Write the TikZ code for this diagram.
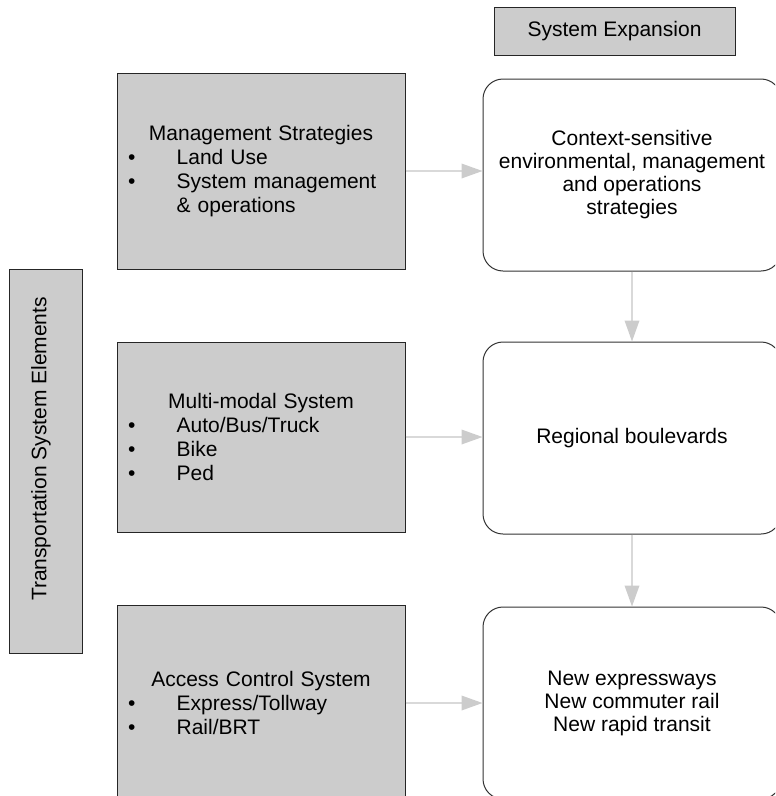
\documentclass[tikz,border=0pt]{standalone}
\usepackage{fontspec}
\setmainfont{Liberation Sans}
\usetikzlibrary{arrows.meta}

\tikzset{
  greybox/.style={draw=black!85, fill=black!20, line width=0.75pt, inner sep=0pt,
    text width=216pt, align=center, font=\fontsize{15.75}{18}\selectfont},
  roundbox/.style={draw=black!80, line width=0.75pt, rounded corners=15pt,
    minimum width=223.5pt, minimum height=144pt, align=center,
    font=\fontsize{15.75}{17.25}\selectfont},
  headbox/.style={draw=black!85, fill=black!20, line width=0.75pt, inner sep=0pt,
    font=\fontsize{15.75}{17.25}\selectfont},
  grarrow/.style={draw=black!15, line width=1pt,
    -{Triangle[length=15.75pt,width=11pt,color=black!20,fill=black!20]}}
}
% bullet line inside the grey boxes
\newcommand{\gitem}[1]{\makebox[\linewidth][l]{\hspace*{8.25pt}\makebox[36.5pt][l]{\textbullet}#1}}
\newcommand{\gmore}[1]{\makebox[\linewidth][l]{\hspace*{44.75pt}#1}}

\begin{document}
\begin{tikzpicture}[x=0.75pt, y=-0.75pt]
\useasboundingbox (0,0) rectangle (775,796);
\clip (0,0) rectangle (775,796);

\node[headbox, minimum width=180.75pt, minimum height=36pt] (sysexp) at (614.5,31) {System Expansion};

\node[headbox, minimum width=54.75pt, minimum height=288pt] (tse) at (45.5,461) {};
\node[rotate=90, font=\fontsize{15.75}{17.25}\selectfont] (tselabel) at (41,449) {Transportation System Elements};

%левая колонка
\node[greybox, minimum height=147pt] (mgmt) at (261,171)
  {Management Strategies\\ \gitem{Land Use}\\ \gitem{System management}\\ \gmore{\& operations}};
\node[greybox, minimum height=142.5pt] (multi) at (261,437)
  {Multi-modal System\\ \gitem{Auto/Bus/Truck}\\ \gitem{Bike}\\ \gitem{Ped}};
\node[greybox, minimum height=147pt] (access) at (261,703)
  {Access Control System\\ \gitem{Express/Tollway}\\ \gitem{Rail/BRT}};

%правая колонка
\node[roundbox] (context) at (632,175)
  {Context-sensitive\\ environmental, management\\ and operations\\ strategies};
\node[roundbox] (blvd) at (632,438) {Regional boulevards};
\node[roundbox] (newsys) at (632,703)
  {New expressways\\ New commuter rail\\ New rapid transit};

\draw[grarrow] (mgmt.east) -- (mgmt.east -| context.west);
\draw[grarrow] (multi.east) -- (multi.east -| blvd.west);
\draw[grarrow] (access.east) -- (access.east -| newsys.west);
\draw[grarrow] (context.south) -- (blvd.north);
\draw[grarrow] (blvd.south) -- (newsys.north);
\end{tikzpicture}
\end{document}
